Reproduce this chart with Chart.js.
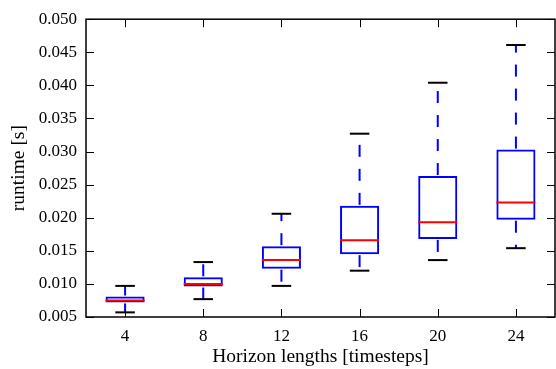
<!DOCTYPE html>
<html>
<head>
<meta charset="utf-8">
<script src="https://cdn.jsdelivr.net/npm/chart.js@4.4.1/dist/chart.umd.min.js"></script>
<style>
  html, body { margin: 0; padding: 0; background: #fff; }
  #wrap { width: 556px; height: 369px; }
</style>
</head>
<body>
<div id="wrap"><canvas id="c" width="556" height="369"></canvas></div>
<script>
// ── Data ────────────────────────────────────────────────────────────
const horizons = ['4', '8', '12', '16', '20', '24'];
const whiskerLow  = [0.0057, 0.0077, 0.0097, 0.0120, 0.0136, 0.0154];
const quart1      = [0.0072, 0.0096, 0.0123, 0.0145, 0.0168, 0.0197];
const medians     = [0.0075, 0.0100, 0.0136, 0.0166, 0.0193, 0.0223];
const quart3      = [0.0081, 0.0110, 0.0157, 0.0218, 0.0263, 0.0303];
const whiskerHigh = [0.0097, 0.0133, 0.0206, 0.0327, 0.0404, 0.0461];
const yTicks = { min: 0.005, max: 0.050, step: 0.005 };

const FONT = "'Liberation Serif', 'DejaVu Serif', serif";

// ── Whiskers, caps, medians, frame and inside ticks ─────────────────
const boxExtras = {
  id: 'boxExtras',
  afterDatasetsDraw(chart) {
    const { ctx, chartArea: a, scales: { x, y } } = chart;
    const bars = chart.getDatasetMeta(0).data;
    ctx.save();
    horizons.forEach((_, i) => {
      const cx = x.getPixelForValue(i);
      const half = bars[i].width / 2;
      const capHalf = half / 2;
      // dashed whiskers
      ctx.strokeStyle = '#0000ff';
      ctx.lineWidth = 2;
      ctx.setLineDash([12, 12]);
      ctx.lineDashOffset = -1;
      ctx.beginPath();
      ctx.moveTo(cx, y.getPixelForValue(quart3[i]));
      ctx.lineTo(cx, y.getPixelForValue(whiskerHigh[i]));
      ctx.stroke();
      ctx.beginPath();
      ctx.moveTo(cx, y.getPixelForValue(quart1[i]));
      ctx.lineTo(cx, y.getPixelForValue(whiskerLow[i]));
      ctx.stroke();
      ctx.setLineDash([]);
      // caps
      ctx.strokeStyle = '#000';
      [whiskerLow[i], whiskerHigh[i]].forEach(v => {
        const py = y.getPixelForValue(v);
        ctx.beginPath();
        ctx.moveTo(cx - capHalf, py);
        ctx.lineTo(cx + capHalf, py);
        ctx.stroke();
      });
      // median
      ctx.strokeStyle = '#ff0000';
      const my = y.getPixelForValue(medians[i]);
      ctx.beginPath();
      ctx.moveTo(cx - half, my);
      ctx.lineTo(cx + half, my);
      ctx.stroke();
    });
    // inside ticks on all four sides
    ctx.strokeStyle = '#000';
    ctx.lineWidth = 1;
    y.ticks.forEach((t, k) => {
      const py = Math.round(y.getPixelForTick(k)) + 0.5;
      ctx.beginPath();
      ctx.moveTo(a.left, py); ctx.lineTo(a.left + 8, py);
      ctx.moveTo(a.right, py); ctx.lineTo(a.right - 8, py);
      ctx.stroke();
    });
    x.ticks.forEach((t, k) => {
      const px = Math.round(x.getPixelForTick(k)) + 0.5;
      ctx.beginPath();
      ctx.moveTo(px, a.bottom); ctx.lineTo(px, a.bottom - 8);
      ctx.moveTo(px, a.top); ctx.lineTo(px, a.top + 8);
      ctx.stroke();
    });
    // frame
    ctx.lineWidth = 1.5;
    ctx.strokeRect(a.left, a.top, a.right - a.left, a.bottom - a.top);
    ctx.restore();
  }
};

new Chart(document.getElementById('c').getContext('2d'), {
  type: 'bar',
  data: {
    labels: horizons,
    datasets: [{
      data: quart1.map((q, i) => [q, quart3[i]]),
      backgroundColor: 'rgba(0,0,0,0)',
      borderColor: '#0000ff',
      borderWidth: 2,
      borderSkipped: false,
      barPercentage: 0.5,
      categoryPercentage: 1.0,
    }],
  },
  options: {
    responsive: false,
    animation: false,
    layout: { padding: { top: 18, right: 1, left: 0, bottom: 0 } },
    plugins: { legend: { display: false }, tooltip: { enabled: false } },
    scales: {
      x: {
        grid: { display: false, drawTicks: false },
        border: { display: false },
        ticks: { color: '#000', font: { family: FONT, size: 17 }, padding: 9 },
        title: {
          display: true, text: 'Horizon lengths [timesteps]', color: '#000',
          font: { family: FONT, size: 19.5 }, padding: { top: 0, bottom: 0 },
        },
        afterFit: s => { s.height = 52; },
      },
      y: {
        min: yTicks.min,
        max: yTicks.max,
        grid: { display: false, drawTicks: false },
        border: { display: false },
        ticks: {
          stepSize: yTicks.step,
          color: '#000',
          font: { family: FONT, size: 17 },
          padding: 9,
          callback: v => v.toFixed(3),
        },
        title: {
          display: true, text: 'runtime [s]', color: '#000',
          font: { family: FONT, size: 19.5 }, padding: { top: 7, bottom: 0 },
        },
        afterFit: s => { s.width = 86; },
      },
    },
  },
  plugins: [boxExtras],
});
</script>
</body>
</html>
